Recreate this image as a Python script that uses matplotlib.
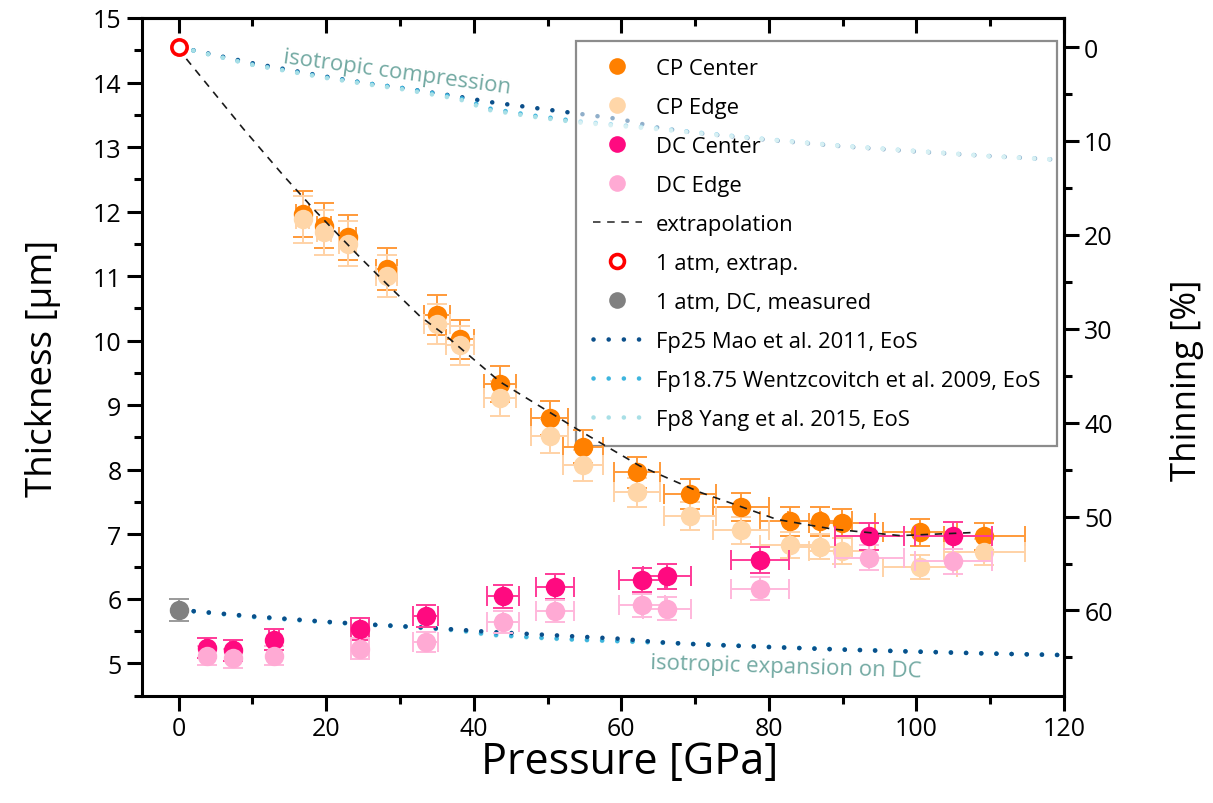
import numpy as np
import matplotlib.pyplot as plt
from matplotlib.lines import Line2D
from matplotlib.ticker import MultipleLocator

plt.rcParams['font.family'] = ['Open Sans', 'DejaVu Sans']

# CP sample: center and edge thickness at the same pressure points
cp_pressure = [16.8, 19.7, 22.9, 28.2, 35.0, 38.1, 43.6, 50.3, 54.8, 62.1,
               69.3, 76.2, 82.9, 86.9, 89.9, 100.5, 109.2]
cp_pressure_err = [0.84, 0.99, 1.15, 1.41, 1.75, 1.9, 2.18, 2.5, 2.74, 3.1,
                   3.47, 3.81, 4.15, 4.35, 4.5, 5.0, 5.46]
cp_center = [11.96, 11.78, 11.60, 11.11, 10.40, 10.02, 9.33, 8.80, 8.36, 7.96,
             7.62, 7.42, 7.20, 7.20, 7.17, 7.03, 6.97]
cp_center_err = [0.36, 0.35, 0.35, 0.33, 0.31, 0.30, 0.28, 0.26, 0.25, 0.24,
                 0.23, 0.22, 0.22, 0.22, 0.22, 0.21, 0.21]
cp_edge = [11.88, 11.68, 11.50, 11.00, 10.26, 9.93, 9.11, 8.52, 8.07, 7.65,
           7.28, 7.06, 6.83, 6.81, 6.74, 6.49, 6.72]
cp_edge_err = [0.36, 0.35, 0.35, 0.33, 0.31, 0.30, 0.27, 0.26, 0.24, 0.23,
               0.22, 0.21, 0.20, 0.20, 0.20, 0.19, 0.20]

# DC sample: center and edge
dc_pressure = [3.8, 7.4, 12.9, 24.6, 33.5, 44.0, 51.0, 62.8, 66.2, 78.8, 93.6, 105.0]
dc_pressure_err = [0.19, 0.37, 0.65, 1.23, 1.68, 2.2, 2.55, 3.14, 3.31, 3.94, 4.68, 5.25]
dc_center = [5.24, 5.20, 5.37, 5.54, 5.74, 6.04, 6.19, 6.29, 6.35, 6.60, 6.97, 6.98]
dc_center_err = [0.16, 0.16, 0.16, 0.17, 0.17, 0.18, 0.19, 0.19, 0.19, 0.20, 0.21, 0.21]
dc_edge = [5.12, 5.08, 5.12, 5.23, 5.33, 5.64, 5.81, 5.90, 5.85, 6.16, 6.64, 6.58]
dc_edge_err = [0.15, 0.15, 0.15, 0.16, 0.16, 0.17, 0.17, 0.18, 0.18, 0.18, 0.20, 0.20]

# ambient pressure values
atm_extrap = 14.55
atm_dc = 5.83
atm_dc_err = 0.17

# fit through the CP center points, extrapolated to 1 atm
extrap_p = [0.0, 1.1, 8.8, 14.2, 18.7, 24.6, 28.2, 32.7, 36.3, 43.6, 54.0,
            62.5, 70.7, 75.2, 81.1, 88.7, 97.8, 108.2]
extrap_t = [14.55, 14.36, 13.28, 12.56, 11.99, 11.29, 10.88, 10.38, 10.07, 9.36,
            8.63, 8.06, 7.65, 7.47, 7.23, 7.08, 6.98, 7.03]

# EoS: relative length l/l0 (cube root of V/V0)
eos_p = [0, 10, 20, 26, 30, 38, 42, 48, 54, 60, 65, 70, 80, 90, 100, 110, 120]
eos_mao = [1.0, 0.9828, 0.9684, 0.9608, 0.9567, 0.9471, 0.9416, 0.9354, 0.9292,
           0.9230, 0.9141, 0.9086, 0.9010, 0.8942, 0.8887, 0.8838, 0.8797]
eos_wentz = [1.0, 0.9814, 0.9677, 0.9608, 0.9567, 0.9464, 0.9347, 0.9271, 0.9210,
             0.9168, 0.9134, 0.9093, 0.9017, 0.8948, 0.8893, 0.8838, 0.8797]
eos_yang = [1.0, 0.9810, 0.9670, 0.9598, 0.9555, 0.9445, 0.9330, 0.9258, 0.9198,
            0.9158, 0.9125, 0.9085, 0.9012, 0.8945, 0.8890, 0.8836, 0.8797]

c_cp_center, c_cp_edge = '#FF8000', '#FFD6A8'
c_dc_center, c_dc_edge = '#FF0A80', '#FFAAD4'
c_mao, c_wentz, c_yang = '#0B4F8A', '#3DB5DE', '#A8DFE6'
c_note = '#72A9A2'
dots = (0, (0.01, 3.3))

fig = plt.figure(figsize=(12.13, 8.04), dpi=100)
ax = fig.add_axes([0.1168, 0.1335, 0.7604, 0.8429])

# isotropic compression from the 1 atm thickness, expansion from the DC value
for rel, col in [(eos_mao, c_mao), (eos_wentz, c_wentz), (eos_yang, c_yang)]:
    ax.plot(eos_p, atm_extrap * np.array(rel), ls=dots, lw=3.3, color=col,
            dash_capstyle='round', zorder=1)
for rel, col in [(eos_yang, c_yang), (eos_wentz, c_wentz), (eos_mao, c_mao)]:
    ax.plot(eos_p, atm_dc * np.array(rel), ls=dots, lw=3.3, color=col,
            dash_capstyle='round', zorder=1)

eb = dict(fmt='o', ms=14, mec='none', elinewidth=1.4, capsize=7, capthick=1.4)
ax.errorbar(cp_pressure, cp_center, yerr=cp_center_err, xerr=cp_pressure_err,
            mfc=c_cp_center, ecolor='#FF9A3A', zorder=3, **eb)
ax.errorbar(cp_pressure, cp_edge, yerr=cp_edge_err, xerr=cp_pressure_err,
            mfc=c_cp_edge, ecolor='#FFD2A6', zorder=3, **eb)
ax.errorbar(dc_pressure, dc_center, yerr=dc_center_err, xerr=dc_pressure_err,
            mfc=c_dc_center, ecolor='#FF3A98', zorder=4, **eb)
ax.errorbar(dc_pressure, dc_edge, yerr=dc_edge_err, xerr=dc_pressure_err,
            mfc=c_dc_edge, ecolor='#FFB8DC', zorder=4, **eb)
ax.errorbar([0], [atm_dc], yerr=[atm_dc_err], mfc='#808080', ecolor='#9A9A9A',
            zorder=4, **eb)

ax.plot(extrap_p, extrap_t, ls=(0, (4.5, 4)), lw=1.2, color='#1A1A1A', zorder=5)
ax.plot([0], [atm_extrap], 'o', ms=11, mfc='white', mec='#FF0000', mew=2.6, zorder=6)

ax.text(29.6, 14.16, 'isotropic compression', color=c_note, fontsize=16,
        rotation=-7.7, ha='center', va='center', rotation_mode='anchor')
ax.text(82.3, 4.95, 'isotropic expansion on DC', color=c_note, fontsize=16,
        rotation=-1.8, ha='center', va='center', rotation_mode='anchor')

ax.set_xlim(-5, 120)
ax.set_ylim(4.5, 15)
ax.xaxis.set_major_locator(MultipleLocator(20))
ax.xaxis.set_minor_locator(MultipleLocator(10))
ax.yaxis.set_major_locator(MultipleLocator(1))
ax.yaxis.set_minor_locator(MultipleLocator(0.5))
for s in ax.spines.values():
    s.set_linewidth(2.2)
tick_kw = dict(width=2.2, labelsize=18)
ax.tick_params(which='major', length=11, direction='out', **tick_kw)
ax.tick_params(which='minor', length=6, direction='out', width=2.2)
ax.tick_params(top=False, right=False, which='both')

# top ticks point inwards
secx = ax.secondary_xaxis('top')
secx.xaxis.set_major_locator(MultipleLocator(20))
secx.xaxis.set_minor_locator(MultipleLocator(10))
secx.tick_params(which='major', length=11, width=2.2, direction='in', labeltop=False)
secx.tick_params(which='minor', length=6, width=2.2, direction='in')
secx.spines['top'].set_linewidth(2.2)

# thinning relative to the extrapolated 1 atm thickness
secy = ax.secondary_yaxis('right', functions=(lambda t: 100 * (1 - t / atm_extrap),
                                              lambda th: atm_extrap * (1 - th / 100)))
secy.yaxis.set_major_locator(MultipleLocator(10))
secy.yaxis.set_minor_locator(MultipleLocator(5))
secy.tick_params(which='major', length=11, direction='out', **tick_kw)
secy.tick_params(which='minor', length=6, width=2.2, direction='out')
secy.spines['right'].set_linewidth(2.2)
secy.set_ylabel('Thinning [%]', fontsize=25)
secy.yaxis.set_label_coords(1.115, 0.467, transform=ax.transAxes)

ax.set_xlabel('Pressure [GPa]', fontsize=31)
ax.xaxis.set_label_coords(0.5294, -0.064)
ax.set_ylabel('Thickness [µm]', fontsize=26.5)
ax.yaxis.set_label_coords(-0.088, 0.485)

handles = [
    Line2D([], [], ls='none', marker='o', ms=12, mfc=c_cp_center, mec='none'),
    Line2D([], [], ls='none', marker='o', ms=12, mfc=c_cp_edge, mec='none'),
    Line2D([], [], ls='none', marker='o', ms=12, mfc=c_dc_center, mec='none'),
    Line2D([], [], ls='none', marker='o', ms=12, mfc=c_dc_edge, mec='none'),
    Line2D([], [], ls=(0, (4.5, 4)), lw=1.2, color='#333333'),
    Line2D([], [], ls='none', marker='o', ms=10, mfc='white', mec='#FF0000', mew=2.6),
    Line2D([], [], ls='none', marker='o', ms=12, mfc='#808080', mec='none'),
    Line2D([], [], ls=dots, lw=3.3, color=c_mao, dash_capstyle='round'),
    Line2D([], [], ls=dots, lw=3.3, color=c_wentz, dash_capstyle='round'),
    Line2D([], [], ls=dots, lw=3.3, color=c_yang, dash_capstyle='round'),
]
labels = ['CP Center', 'CP Edge', 'DC Center', 'DC Edge', 'extrapolation',
          '1 atm, extrap.', '1 atm, DC, measured', 'Fp25 Mao et al. 2011, EoS',
          'Fp18.75 Wentzcovitch et al. 2009, EoS', 'Fp8 Yang et al. 2015, EoS']
leg = ax.legend(handles, labels, loc='upper left', bbox_to_anchor=(0.4709, 0.966),
                borderaxespad=0, fontsize=15.8, frameon=True, fancybox=False,
                handlelength=2.23, handletextpad=0.65, borderpad=0.76,
                labelspacing=0.82)
frame = leg.get_frame()
frame.set_alpha(None)
frame.set_facecolor((1, 1, 1, 0.55))
frame.set_edgecolor('#8C8C8C')
frame.set_linewidth(1.6)
leg.set_zorder(2)

fig.savefig('out.png', dpi=100)
